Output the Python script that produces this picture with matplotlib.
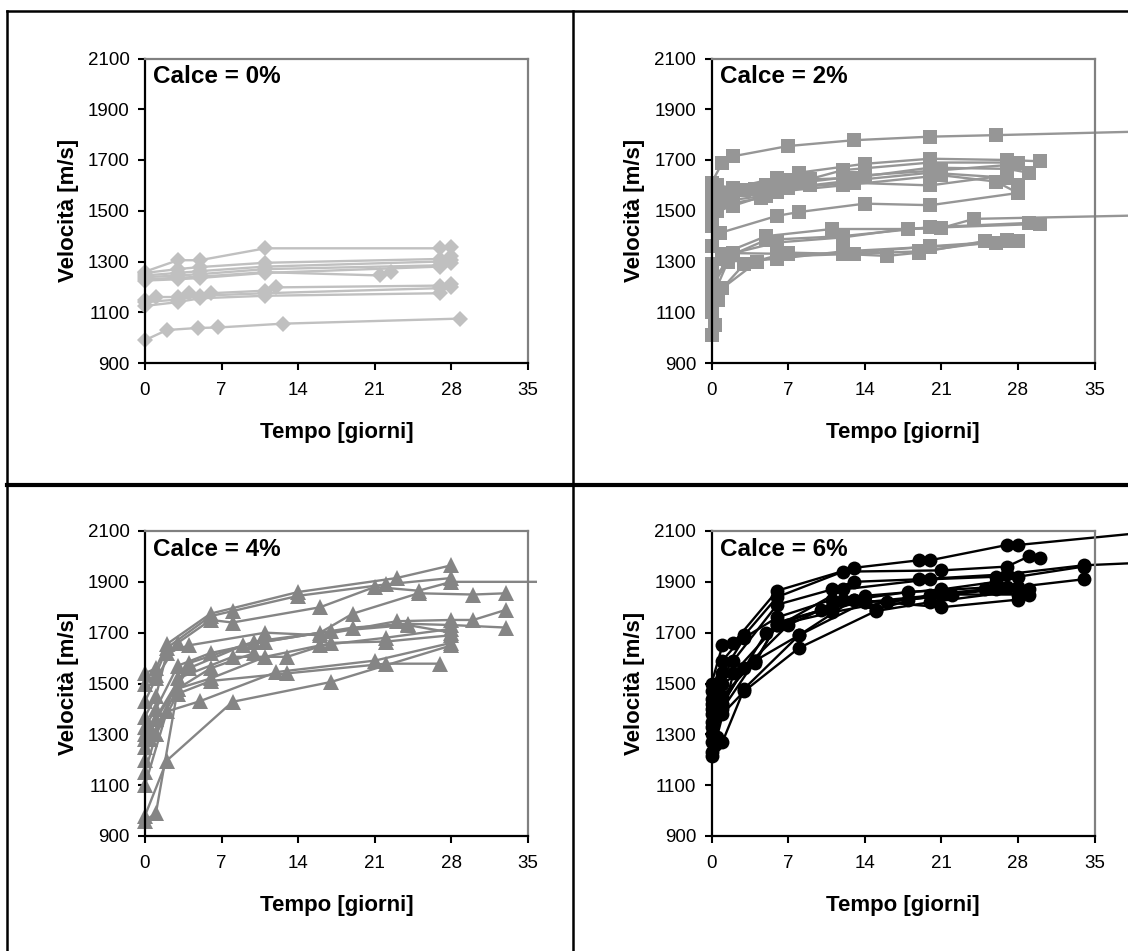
import numpy as np
import matplotlib.pyplot as plt
from matplotlib.lines import Line2D
from matplotlib.transforms import Bbox, TransformedBbox

plt.rcParams['font.family'] = ['Liberation Sans', 'DejaVu Sans']

# --- velocità vs tempo, calce = 0% ---
c0_days = [
    [0, 3, 5, 11, 27, 28],
    [0, 3, 5, 11, 27, 28],
    [0, 3, 5, 11, 27, 28],
    [0, 3, 5, 11, 27, 28],
    [0, 3, 5, 11, 21.5, 22.5],
    [0, 3, 5, 11, 27],
    [0, 1, 3, 4, 6, 11, 12, 27, 28],
    [0, 3, 5, 11, 27, 28],
    [0, 3, 5, 11, 27],
    [0, 2, 4.8, 6.7, 12.6, 28.8],
]
c0_vel = [
    [1260, 1305, 1305, 1352, 1352, 1358],
    [1255, 1270, 1278, 1295, 1310, 1320],
    [1245, 1255, 1262, 1280, 1300, 1305],
    [1238, 1245, 1250, 1270, 1285, 1295],
    [1230, 1236, 1240, 1258, 1245, 1260],
    [1225, 1230, 1235, 1255, 1280],
    [1150, 1160, 1160, 1175, 1175, 1185, 1198, 1205, 1210],
    [1140, 1150, 1165, 1175, 1195, 1200],
    [1125, 1140, 1155, 1165, 1175],
    [990, 1030, 1038, 1040, 1055, 1075],
]

# --- calce = 2% ---
c2_days = [
    [0, 1, 2, 7, 13, 20, 26, 42],
    [0, 0.5, 2, 6, 8, 14, 20, 27, 30],
    [0, 2, 5, 9, 12, 20, 28],
    [0, 1, 4, 7, 13, 20, 27, 29],
    [0, 1, 3, 8, 14, 21, 27],
    [0, 1.5, 5, 9, 13, 20, 27, 28],
    [0, 2, 6, 12, 21, 26, 28],
    [0, 0.8, 6, 8, 14, 20, 28],
    [0, 0.5, 2, 4.5, 7, 13, 20, 27],
    [0, 1, 5, 11, 18, 21, 24, 42],
    [0, 1, 5, 12, 20, 29],
    [0, 2, 6, 12, 18, 30],
    [0, 2, 7, 12, 16, 19, 25, 28],
    [0, 1.5, 6, 12, 20, 26],
    [0, 1, 4.2, 6, 13, 19, 27],
    [0, 0.3, 0.6, 1, 3, 7, 12, 20, 27],
]
c2_vel = [
    [1610, 1690, 1715, 1755, 1778, 1792, 1798, 1815],
    [1590, 1600, 1590, 1630, 1650, 1685, 1705, 1700, 1695],
    [1570, 1580, 1600, 1625, 1660, 1690, 1690],
    [1550, 1570, 1585, 1620, 1630, 1670, 1665, 1650],
    [1530, 1550, 1580, 1610, 1640, 1660, 1680],
    [1510, 1540, 1560, 1600, 1620, 1650, 1630, 1600],
    [1490, 1520, 1575, 1600, 1640, 1615, 1570],
    [1360, 1413, 1480, 1495, 1528, 1522, 1570],
    [1440, 1500, 1530, 1550, 1590, 1610, 1600, 1640],
    [1290, 1330, 1400, 1428, 1428, 1432, 1468, 1484],
    [1250, 1310, 1385, 1400, 1435, 1452],
    [1220, 1333, 1375, 1395, 1430, 1448],
    [1200, 1333, 1330, 1330, 1322, 1335, 1381, 1381],
    [1150, 1300, 1310, 1340, 1358, 1373],
    [1100, 1195, 1300, 1320, 1330, 1340, 1385],
    [1010, 1050, 1150, 1195, 1290, 1335, 1330, 1360, 1380],
]

# --- calce = 4% ---
c4_days = [
    [0, 1, 2, 6, 14, 23, 28],
    [0, 1, 2, 6, 8, 14, 22, 28],
    [0, 1, 3, 6, 8, 16, 21, 25, 28, 40],
    [0, 1, 2, 4, 11, 16, 23, 28, 30, 33],
    [0, 1, 3, 6, 11, 19, 24, 28, 33],
    [0, 0.5, 4, 10, 17, 24, 28],
    [0, 1, 3, 8, 13, 17, 22, 28],
    [0, 1, 4, 9, 16, 19, 25, 30, 33],
    [0, 0.5, 3, 6, 11, 16, 22, 28],
    [0, 1, 3, 6, 13, 22, 27],
    [0, 2, 5, 12, 21, 28],
    [0, 2, 8, 17, 28],
    [0, 1, 3, 6, 10],
]
c4_vel = [
    [1540, 1560, 1655, 1775, 1860, 1915, 1965],
    [1500, 1535, 1640, 1765, 1785, 1845, 1890, 1915],
    [1430, 1520, 1660, 1750, 1740, 1800, 1880, 1865, 1900, 1900],
    [1370, 1450, 1620, 1650, 1700, 1690, 1745, 1750, 1750, 1790],
    [1330, 1400, 1570, 1620, 1665, 1720, 1735, 1730, 1720],
    [1300, 1330, 1580, 1665, 1705, 1730, 1700],
    [1280, 1300, 1520, 1605, 1605, 1660, 1665, 1690],
    [1250, 1360, 1560, 1650, 1700, 1775, 1855, 1850, 1855],
    [1200, 1280, 1480, 1520, 1605, 1650, 1680, 1715],
    [1150, 1300, 1460, 1510, 1540, 1578, 1578],
    [1100, 1390, 1430, 1545, 1590, 1660],
    [980, 1197, 1428, 1506, 1650],
    [960, 990, 1480, 1560, 1620],
]

# --- calce = 6% ---
c6_days = [
    [0, 1, 2, 6, 13, 19, 20, 27, 28, 42],
    [0, 1, 3, 6, 12, 21, 27, 29, 30],
    [0, 0.5, 2, 6, 11, 13, 19, 27, 34, 42],
    [0, 1, 3, 6, 11, 14, 21, 26, 28, 34],
    [0, 1, 4, 6, 11, 13, 18, 26, 28, 34],
    [0, 1, 4, 6, 10, 14, 18, 22, 29],
    [0, 1, 3, 7, 12, 15, 20, 25, 28],
    [0, 1, 4, 8, 13, 21, 28],
    [0, 1, 3, 8, 15, 20, 29],
    [0, 1, 3, 8, 14, 21, 27],
    [0, 0.5, 2, 6, 11, 16, 26],
    [0, 0.3, 1, 5, 12, 20, 26],
]
c6_vel = [
    [1500, 1650, 1660, 1865, 1955, 1985, 1985, 2045, 2045, 2104],
    [1470, 1590, 1690, 1840, 1940, 1945, 1960, 2000, 1995],
    [1440, 1500, 1590, 1810, 1870, 1900, 1910, 1930, 1965, 1980],
    [1420, 1540, 1680, 1760, 1830, 1845, 1870, 1900, 1920, 1960],
    [1400, 1500, 1580, 1740, 1800, 1830, 1860, 1880, 1880, 1910],
    [1380, 1450, 1590, 1730, 1790, 1820, 1830, 1850, 1850],
    [1350, 1420, 1560, 1730, 1830, 1790, 1850, 1870, 1850],
    [1330, 1400, 1590, 1690, 1830, 1800, 1830],
    [1300, 1380, 1470, 1640, 1785, 1820, 1870],
    [1270, 1270, 1480, 1690, 1820, 1850, 1880],
    [1230, 1290, 1540, 1730, 1780, 1820, 1870],
    [1215, 1260, 1420, 1700, 1870, 1910, 1920],
]

panels = [
    ('Calce = 0%', c0_days, c0_vel, 'D', 7.8, '#c0c0c0'),
    ('Calce = 2%', c2_days, c2_vel, 's', 10.0, '#969696'),
    ('Calce = 4%', c4_days, c4_vel, '^', 11.0, '#858585'),
    ('Calce = 6%', c6_days, c6_vel, 'o', 10.0, '#000000'),
]

W, H = 1128, 951
fig = plt.figure(figsize=(W / 100, H / 100), dpi=100)

# axes rectangles in pixels: left, top, right, bottom
boxes = [
    (145, 58.5, 528, 363),
    (711.5, 58.5, 1094.5, 363),
    (145, 531, 528, 836),
    (711.5, 531, 1094.5, 836),
]
# clip limits (right edge, px) for series running past day 35
clip_right = [537, W, 537, W]

for i, (title, days, vel, mk, ms, col) in enumerate(panels):
    l, t, r, b = boxes[i]
    ax = fig.add_axes([l / W, 1 - b / H, (r - l) / W, (b - t) / H])
    clip = TransformedBbox(
        Bbox([[l / W - 0.02, 1 - (b + 3) / H], [clip_right[i] / W, 1 - (t - 3) / H]]),
        fig.transFigure)
    for d, v in zip(days, vel):
        ln, = ax.plot(d, v, color=col, marker=mk, markersize=ms, lw=1.7,
                      markeredgewidth=0)
        ln.set_clip_box(clip)

    ax.set_xlim(0, 35)
    ax.set_ylim(900, 2100)
    ax.set_xticks(np.arange(0, 36, 7))
    ax.set_yticks(np.arange(900, 2101, 200))
    ax.tick_params(labelsize=13.5, direction='out', length=5, width=1.5,
                   color='black')
    ax.tick_params(axis='y', pad=6)
    ax.tick_params(axis='x', pad=9)
    for s in ('left', 'bottom'):
        ax.spines[s].set_color('black')
        ax.spines[s].set_linewidth(1.6)
    for s in ('top', 'right'):
        ax.spines[s].set_color('#808080')
        ax.spines[s].set_linewidth(1.6)

    ax.set_xlabel('Tempo [giorni]', fontsize=16, fontweight='bold', va='center')
    ax.xaxis.set_label_coords(0.5, -0.227)
    ax.set_ylabel('Velocità [m/s]', fontsize=16, fontweight='bold', va='center')
    ax.yaxis.set_label_coords(-0.201, 0.5)
    ax.text(0.021, 0.94, title, transform=ax.transAxes, fontsize=17.5,
            fontweight='bold', va='center', ha='left')

# frame around the four cells
def px_line(xs, ys, lw):
    fig.add_artist(Line2D([x / W for x in xs], [1 - y / H for y in ys],
                          color='black', lw=lw, transform=fig.transFigure))

px_line([7, 7], [11, H], 1.8)
px_line([7, W], [11, 11], 1.8)
px_line([573, 573], [11, H], 1.8)
px_line([7, W], [484.5, 484.5], 3.0)

fig.savefig('out.png', dpi=100)
